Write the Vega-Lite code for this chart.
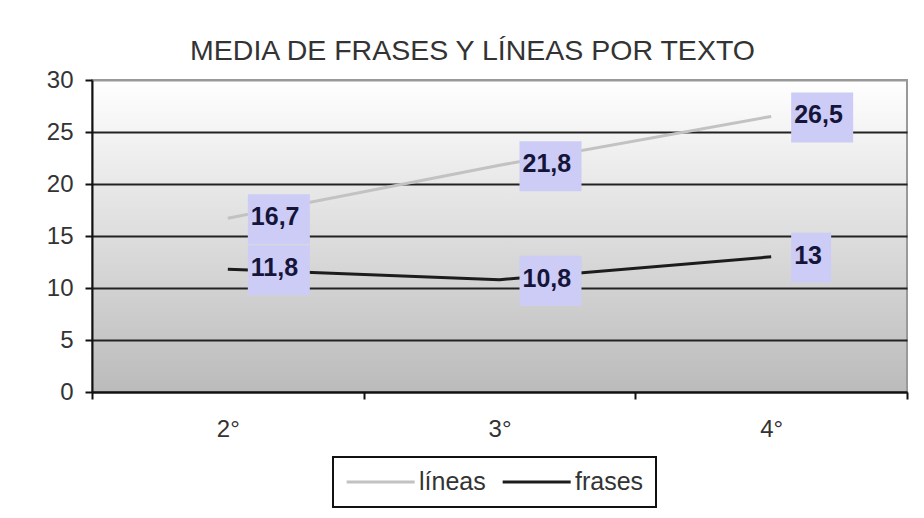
{
  "$schema": "https://vega.github.io/schema/vega-lite/v6.json",
  "width": 815,
  "height": 312,
  "autosize": {"type": "none"},
  "padding": {"left": 92, "top": 80, "right": 17, "bottom": 126},
  "background": "#ffffff",
  "title": {
    "text": "MEDIA DE FRASES Y LÍNEAS POR TEXTO",
    "font": "Liberation Sans",
    "fontSize": 28.5,
    "fontWeight": "normal",
    "color": "#333333",
    "anchor": "middle",
    "baseline": "alphabetic",
    "offset": 20,
    "dy": 40,
    "dx": -27
  },
  "view": {
    "fill": {
      "gradient": "linear",
      "x1": 0, "y1": 0, "x2": 0, "y2": 1,
      "stops": [
        {"offset": 0, "color": "#ffffff"},
        {"offset": 1, "color": "#bbbbbb"}
      ]
    },
    "stroke": "#999999",
    "strokeWidth": 2
  },
  "data": {
    "values": [
      {"grado": "2°", "serie": "líneas", "valor": 16.7, "etiqueta": "16,7"},
      {"grado": "3°", "serie": "líneas", "valor": 21.8, "etiqueta": "21,8"},
      {"grado": "4°", "serie": "líneas", "valor": 26.5, "etiqueta": "26,5"},
      {"grado": "2°", "serie": "frases", "valor": 11.8, "etiqueta": "11,8"},
      {"grado": "3°", "serie": "frases", "valor": 10.8, "etiqueta": "10,8"},
      {"grado": "4°", "serie": "frases", "valor": 13, "etiqueta": "13"}
    ]
  },
  "encoding": {
    "x": {
      "field": "grado",
      "type": "nominal",
      "sort": ["2°", "3°", "4°"],
      "bandPosition": 0.5,
      "scale": {"type": "band", "paddingInner": 0, "paddingOuter": 0},
      "axis": {
        "title": null,
        "labelAngle": 0,
        "tickBand": "extent",
        "labelFont": "Liberation Sans",
        "labelFontSize": 24,
        "labelColor": "#333333",
        "labelPadding": 18,
        "tickSize": 7,
        "tickColor": "#111111",
        "tickWidth": 2,
        "domainColor": "#111111",
        "domainWidth": 2,
        "grid": false
      }
    },
    "y": {
      "field": "valor",
      "type": "quantitative",
      "scale": {"domain": [0, 30], "nice": false},
      "axis": {
        "title": null,
        "values": [0, 5, 10, 15, 20, 25, 30],
        "labelFont": "Liberation Sans",
        "labelFontSize": 24,
        "labelColor": "#333333",
        "labelPadding": 12,
        "tickSize": 7,
        "tickColor": "#111111",
        "tickWidth": 2,
        "domainColor": "#111111",
        "domainWidth": 2,
        "grid": true,
        "gridColor": {"condition": {"test": "datum.value === 30", "value": "#999999"}, "value": "#222222"},
        "gridWidth": 2,
        "gridOpacity": 1
      }
    }
  },
  "layer": [
    {
      "mark": {"type": "line", "strokeWidth": 3},
      "encoding": {
        "color": {
          "field": "serie",
          "type": "nominal",
          "scale": {"domain": ["líneas", "frases"], "range": ["#c2c2c2", "#1c1c1c"]},
          "legend": {
            "title": null,
            "orient": "none",
            "legendX": 241,
            "legendY": 377,
            "direction": "horizontal",
            "symbolType": "M-1,0H5",
            "symbolSize": 514,
            "symbolStrokeWidth": 3,
            "labelFont": "Liberation Sans",
            "labelFontSize": 25,
            "labelColor": "#333333",
            "labelOffset": 48,
            "columnPadding": 10,
            "padding": 12,
            "strokeColor": "#111111",
            "fillColor": "#ffffff"
          }
        }
      }
    },
    {
      "transform": [{"filter": "length(datum.etiqueta) > 2"}],
      "mark": {"type": "rect", "width": 62, "xOffset": 51, "yOffset": -24, "y2Offset": 26, "color": "#ccccf6", "opacity": 1},
      "encoding": {
        "y": {"field": "valor", "type": "quantitative"},
        "y2": {"field": "valor"}
      }
    },
    {
      "transform": [{"filter": "length(datum.etiqueta) <= 2"}],
      "mark": {"type": "rect", "width": 40, "xOffset": 40, "yOffset": -24, "y2Offset": 26, "color": "#ccccf6", "opacity": 1},
      "encoding": {
        "y": {"field": "valor", "type": "quantitative"},
        "y2": {"field": "valor"}
      }
    },
    {
      "mark": {
        "type": "text",
        "align": "left",
        "baseline": "middle",
        "dx": 23,
        "dy": -1,
        "font": "Liberation Sans",
        "fontSize": 25,
        "fontWeight": "bold",
        "color": "#15153a"
      },
      "encoding": {
        "text": {"field": "etiqueta", "type": "nominal"}
      }
    }
  ],
  "config": {
    "legend": {"strokeWidth": 2}
  }
}
